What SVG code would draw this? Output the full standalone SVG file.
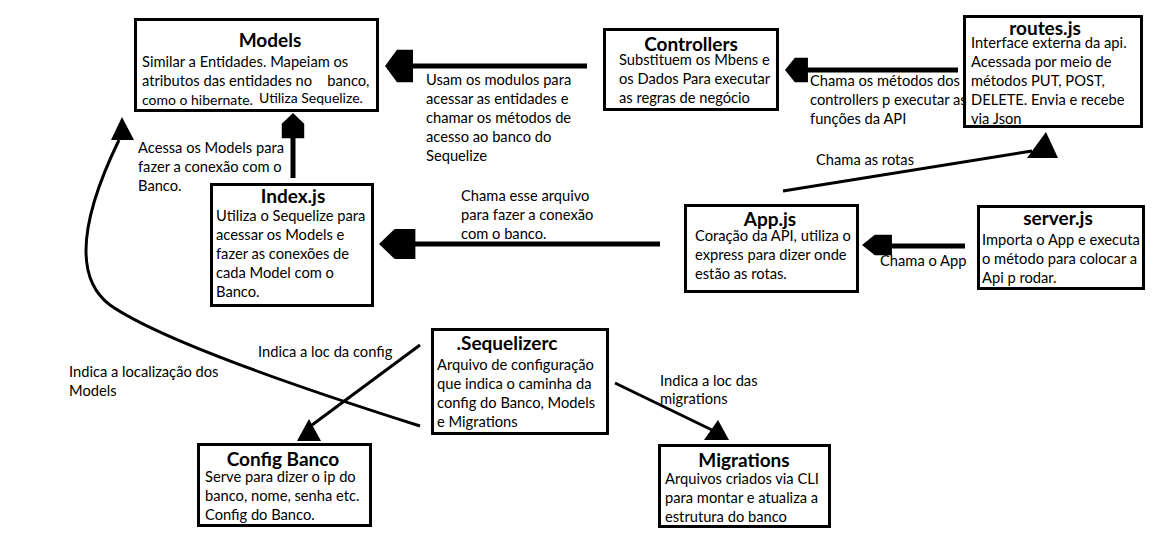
<svg xmlns="http://www.w3.org/2000/svg" width="1172" height="550" viewBox="0 0 1172 550">
<style>
.box{fill:#fff;stroke:#000;stroke-width:3}
.t{font-family:Lato,"Open Sans",sans-serif;font-size:14.7px;fill:#000}
.s{font-size:14px}
.h{font-family:Lato,"Open Sans",sans-serif;font-size:19px;font-weight:bold;fill:#000;text-anchor:middle}
.thick{stroke:#000;stroke-width:5;fill:none}
.thin{stroke:#000;stroke-width:3;fill:none}
.head{fill:#000}
</style>
<defs>
<path id="blk" d="M0,0 L12,-17 L28,-17 L28,17 L12,17 Z"/>
</defs>
<rect width="1172" height="550" fill="#fff"/>
<g id="connectors">
<line class="thick" x1="410" y1="66" x2="587" y2="66"/>
<use href="#blk" class="head" transform="translate(385,66) scale(1,0.95)"/>
<line class="thick" x1="805" y1="70" x2="958" y2="70"/>
<use href="#blk" class="head" transform="translate(785,70) scale(0.82,0.72)"/>
<line class="thick" x1="293" y1="132" x2="293" y2="178"/>
<use href="#blk" class="head" transform="translate(293,113) rotate(90) scale(0.9,0.66)"/>
<line class="thick" x1="410" y1="244" x2="660" y2="244"/>
<use href="#blk" class="head" transform="translate(379,244) scale(1.3,0.88)"/>
<line class="thick" x1="888" y1="246" x2="965" y2="246"/>
<use href="#blk" class="head" transform="translate(862,245) scale(1.07,0.6)"/>
<line class="thin" x1="783" y1="191" x2="1032" y2="151"/>
<polygon class="head" points="1046,132 1027,158 1058,158"/>
<path class="thin" d="M420,426 C300,388 160,340 110,305 C70,275 85,210 119,140"/>
<polygon class="head" points="122,117 111,140 134,140"/>
<line class="thin" x1="420" y1="345" x2="312" y2="425"/>
<polygon class="head" points="309,419 297,441 321,441"/>
<line class="thin" x1="615" y1="383" x2="712" y2="430"/>
<polygon class="head" points="718,420 704,440 729,440"/>
</g>
<g id="models">
<rect class="box" x="135.5" y="19.5" width="242" height="91"/>
<text class="h" x="270" y="47">Models</text>
<text class="t" x="142" y="67">Similar a Entidades. Mapeiam os</text>
<text class="t" x="142" y="86" xml:space="preserve">atributos das entidades no    banco,</text>
<text class="t s" x="142" y="105">como o hibernate.</text>
<text class="t s" x="259" y="103">Utiliza Sequelize.</text>
</g>
<g id="controllers">
<rect class="box" x="604.5" y="29.5" width="173" height="80"/>
<text class="h" x="691" y="51">Controllers</text>
<text class="t" x="619" y="65">Substituem os Mbens e</text>
<text class="t" x="619" y="84">os Dados Para executar</text>
<text class="t" x="619" y="103">as regras de negócio</text>
</g>
<g id="routes">
<rect class="box" x="964.5" y="16.5" width="177" height="110"/>
<text class="h" x="1045" y="35">routes.js</text>
<text class="t" x="971" y="48">Interface externa da api.</text>
<text class="t" x="971" y="67">Acessada por meio de</text>
<text class="t" x="971" y="86">métodos PUT, POST,</text>
<text class="t" x="971" y="105">DELETE. Envia e recebe</text>
<text class="t" x="971" y="124">via Json</text>
</g>
<g id="index">
<rect class="box" x="211.5" y="184.5" width="161" height="121"/>
<text class="h" x="293" y="203">Index.js</text>
<text class="t" x="216" y="221">Utiliza o Sequelize para</text>
<text class="t" x="216" y="240">acessar os Models e</text>
<text class="t" x="216" y="259">fazer as conexões de</text>
<text class="t" x="216" y="278">cada Model com o</text>
<text class="t" x="216" y="297">Banco.</text>
</g>
<g id="app">
<rect class="box" x="685.5" y="205.5" width="172" height="86"/>
<text class="h" x="770" y="226">App.js</text>
<text class="t" x="695" y="241">Coração da API, utiliza o</text>
<text class="t" x="695" y="260">express para dizer onde</text>
<text class="t" x="695" y="279">estão as rotas.</text>
</g>
<g id="server">
<rect class="box" x="978.5" y="206.5" width="165" height="82"/>
<text class="h" x="1058" y="225">server.js</text>
<text class="t" x="982" y="245">Importa o App e executa</text>
<text class="t" x="982" y="264">o método para colocar a</text>
<text class="t" x="982" y="283">Api p rodar.</text>
</g>
<g id="sequelizerc">
<rect class="box" x="432.5" y="329.5" width="175" height="104"/>
<text class="h" x="507" y="350">.Sequelizerc</text>
<text class="t" x="437" y="370">Arquivo de configuração</text>
<text class="t" x="437" y="389">que indica o caminha da</text>
<text class="t" x="437" y="408">config do Banco, Models</text>
<text class="t" x="437" y="427">e Migrations</text>
</g>
<g id="config">
<rect class="box" x="198.5" y="444.5" width="172" height="81"/>
<text class="h" x="283" y="466">Config Banco</text>
<text class="t" x="205" y="482">Serve para dizer o ip do</text>
<text class="t" x="205" y="501">banco, nome, senha etc.</text>
<text class="t" x="205" y="520">Config do Banco.</text>
</g>
<g id="migrations">
<rect class="box" x="659.5" y="445.5" width="170" height="81"/>
<text class="h" x="744" y="467">Migrations</text>
<text class="t" x="665" y="484">Arquivos criados via CLI</text>
<text class="t" x="665" y="503">para montar e atualiza a</text>
<text class="t" x="665" y="522">estrutura do banco</text>
</g>
<g id="labels">
<text class="t" x="426" y="85">Usam os modulos para</text>
<text class="t" x="426" y="104">acessar as entidades e</text>
<text class="t" x="426" y="123">chamar os métodos de</text>
<text class="t" x="426" y="142">acesso ao banco do</text>
<text class="t" x="426" y="161">Sequelize</text>
<text class="t" x="138" y="153">Acessa os Models para</text>
<text class="t" x="138" y="172">fazer a conexão com o</text>
<text class="t" x="138" y="191">Banco.</text>
<text class="t" x="810" y="86">Chama os métodos dos</text>
<text class="t" x="810" y="105">controllers p executar as</text>
<text class="t" x="810" y="124">funções da API</text>
<text class="t" x="816" y="165">Chama as rotas</text>
<text class="t" x="461" y="201">Chama esse arquivo</text>
<text class="t" x="461" y="220">para fazer a conexão</text>
<text class="t" x="461" y="239">com o banco.</text>
<text class="t" x="880" y="266">Chama o App</text>
<text class="t" x="258" y="357">Indica a loc da config</text>
<text class="t" x="69" y="377">Indica a localização dos</text>
<text class="t" x="69" y="396">Models</text>
<text class="t" x="660" y="386">Indica a loc das</text>
<text class="t" x="660" y="404">migrations</text>
</g>
</svg>
